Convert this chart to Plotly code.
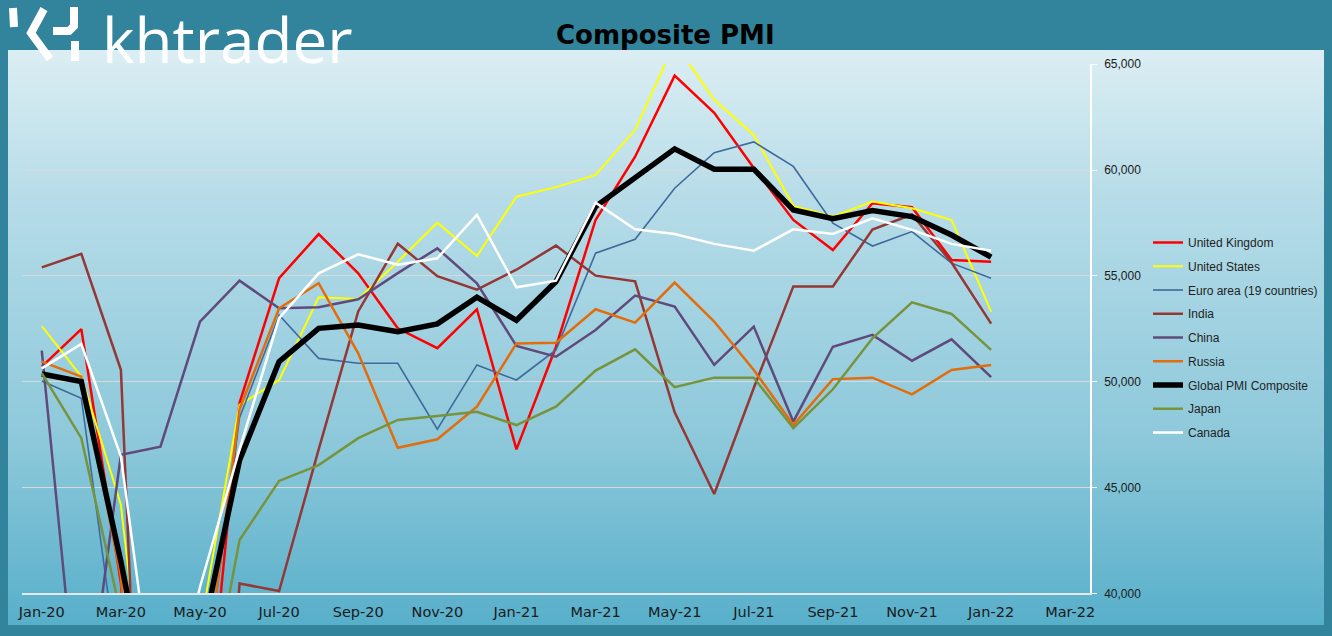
import plotly.graph_objects as go

W, H = 1332, 636

months = ["Jan-20", "Feb-20", "Mar-20", "Apr-20", "May-20", "Jun-20", "Jul-20", "Aug-20", "Sep-20",
          "Oct-20", "Nov-20", "Dec-20", "Jan-21", "Feb-21", "Mar-21", "Apr-21", "May-21", "Jun-21",
          "Jul-21", "Aug-21", "Sep-21", "Oct-21", "Nov-21", "Dec-21", "Jan-22", "Feb-22", "Mar-22"]
tick_labels = months[::2]

united_kingdom = [50710, 52480, 40500, 14000, 30000, 49000, 54890, 56970, 55120, 52520, 51580, 53420, 46800,
                  51650, 57640, 60630, 64460, 62700, 60100, 57640, 56220, 58430, 58240, 55750, 55670]
united_states = [52630, 50240, 44180, 27700, 38300, 48900, 50080, 53990, 53910, 55670, 57510, 55940, 58740,
                 59190, 59770, 61900, 66000, 63320, 61660, 58300, 57800, 58510, 58190, 57640, 53310]
euro_area = [50030, 49210, 35500, 13500, 34000, 48300, 53150, 51100, 50870, 50870, 47750, 50790, 50080,
             51500, 56070, 56730, 59140, 60820, 61330, 60170, 57490, 56410, 57090, 55600, 54890]
india = [55400, 56040, 50560, 7200, 14800, 40460, 40110, 46800, 53320, 56520, 54980, 54350, 55290,
         56430, 55010, 54740, 48550, 44690, 49700, 54500, 54500, 57190, 57900, 55630, 52740]
china = [51470, 32500, 46540, 46930, 52840, 54770, 53470, 53520, 53890, 55130, 56300, 54650, 51690,
         51180, 52440, 54070, 53550, 50790, 52600, 48110, 51650, 52210, 50990, 52000, 50210]
russia = [50950, 50240, 40800, 13000, 34000, 48700, 53470, 54650, 51340, 46880, 47280, 48820, 51800,
          51840, 53420, 52790, 54680, 52840, 50550, 47950, 50120, 50190, 49400, 50550, 50790]
global_pmi = [50360, 50000, 41500, 32000, 37500, 46290, 50950, 52520, 52680, 52360, 52730, 53990, 52900,
              54730, 58270, 59610, 61000, 60040, 60040, 58110, 57700, 58080, 57800, 56930, 55880]
japan = [50400, 47330, 39000, 25800, 32600, 42520, 45310, 46060, 47330, 48190, 48380, 48580, 47950,
         48820, 50520, 51530, 49740, 50190, 50190, 47800, 49640, 52050, 53750, 53200, 51500]
canada = [50630, 51780, 46460, 32500, 40300, 46800, 53000, 55120, 56020, 55520, 55830, 57880, 54460,
          54770, 58460, 57200, 56980, 56510, 56190, 57200, 56980, 57720, 57170, 56510, 56190]

series = [
    ("United Kingdom", united_kingdom, "#FF0000", 2.5),
    ("United States", united_states, "#FFFF00", 2.0),
    ("Euro area (19 countries)", euro_area, "#3F6A9C", 1.6),
    ("India", india, "#953735", 2.5),
    ("China", china, "#604A7B", 2.5),
    ("Russia", russia, "#E46C0A", 2.5),
    ("Global PMI Composite", global_pmi, "#000000", 5.5),
    ("Japan", japan, "#77933C", 2.5),
    ("Canada", canada, "#FFFFFF", 2.5),
]

fig = go.Figure()
for i, (name, vals, color, width) in enumerate(series):
    fig.add_trace(go.Scatter(
        x=months[:len(vals)], y=vals, name=name, mode="lines",
        line=dict(color=color, width=width),
        legendgroup=f"g{i}",
    ))

def px_x(px):
    return px / W

def px_y(py):
    return 1 - py / H

# gradient panel background (overlapping bands)
stops = [(50, (220, 238, 243)), (200, (182, 220, 232)), (445, (140, 200, 218)), (625, (88, 175, 202))]

def col_at(py):
    for (y0, c0), (y1, c1) in zip(stops[:-1], stops[1:]):
        if y0 <= py <= y1:
            t = (py - y0) / (y1 - y0)
            return tuple(round(c0[k] + (c1[k] - c0[k]) * t) for k in range(3))
    return stops[-1][1]

shapes = []
band = 4
py = 50
while py < 625:
    y2 = min(py + band, 625)
    c = col_at((py + y2) / 2)
    bottom = min(y2 + 3, 625) if y2 < 625 else 625
    shapes.append(dict(type="rect", xref="paper", yref="paper", layer="below",
                       x0=px_x(8), x1=px_x(1324), y0=px_y(bottom), y1=px_y(py),
                       fillcolor=f"rgb{c}", line=dict(width=0)))
    py = y2

# logo icon strokes
def path_from(pts):
    return "M " + " L ".join(f"{px_x(x):.5f},{px_y(y):.5f}" for x, y in pts)

icon_paths = [
    [(13, 8), (14, 27)],
    [(44, 9), (31, 33), (50, 59)],
    [(53, 31), (69, 31), (74, 26), (74, 7)],
    [(75, 41), (75, 61)],
]
for pts in icon_paths:
    shapes.append(dict(type="path", xref="paper", yref="paper", layer="above",
                       path=path_from(pts), line=dict(color="white", width=8)))

fig.update_layout(
    width=W, height=H,
    margin=dict(l=0, r=0, t=0, b=0, autoexpand=False),
    paper_bgcolor="#31849B",
    plot_bgcolor="rgba(0,0,0,0)",
    showlegend=True,
    legend=dict(x=px_x(1148), y=px_y(228), xanchor="left", yanchor="top",
                bgcolor="rgba(0,0,0,0)", traceorder="grouped", tracegroupgap=4.75,
                font=dict(family="Liberation Sans", size=12, color="#1F1F1F")),
    xaxis=dict(domain=[px_x(22), px_x(1090)], type="category", automargin=False,
               categoryorder="array", categoryarray=months,
               range=[-0.5, len(months) - 0.5],
               tickmode="array", tickvals=tick_labels, ticktext=tick_labels,
               showgrid=False, showline=True, linecolor="#E4E8EA", linewidth=1.5,
               ticks="", ticklabelstandoff=5,
               tickfont=dict(family="DejaVu Sans", size=14.5, color="#1A1A1A")),
    yaxis=dict(domain=[px_y(593.3), px_y(64.2)], range=[40000, 65000], automargin=False,
               side="right", tickmode="array",
               tickvals=[40000, 45000, 50000, 55000, 60000, 65000],
               tickformat=",", showgrid=True, gridcolor="#D9D9D9", gridwidth=1,
               showline=True, linecolor="#FFFFFF", linewidth=1.5,
               ticks="outside", ticklen=5, tickcolor="#FFFFFF",
               ticklabelstandoff=5, zeroline=False,
               tickfont=dict(family="Liberation Sans", size=12, color="#1A1A1A")),
    shapes=shapes,
    annotations=[
        dict(text="Composite PMI", x=px_x(665), y=px_y(35), xref="paper", yref="paper",
             xanchor="center", yanchor="middle", showarrow=False,
             font=dict(family="DejaVu Sans", size=26, color="#000000", weight="bold")),
        dict(text="khtrader", x=px_x(100), y=px_y(83), xref="paper", yref="paper",
             xanchor="left", yanchor="bottom", showarrow=False,
             font=dict(family="Open Sans", size=62, color="#FFFFFF")),
    ],
)

fig.write_html("out.html")
